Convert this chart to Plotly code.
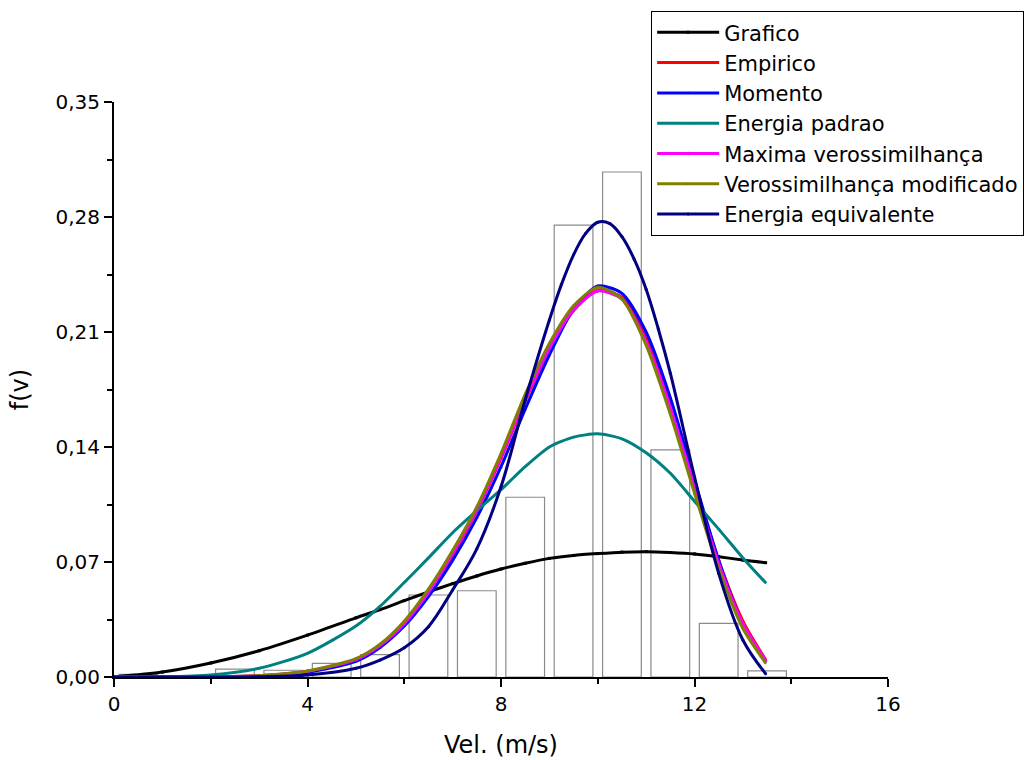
import plotly.graph_objects as go

# Histogram (bin centres, relative frequency)
bin_centers = [0.5, 1.5, 2.5, 3.5, 4.5, 5.5, 6.5, 7.5, 8.5, 9.5, 10.5, 11.5, 12.5, 13.5]
bin_freq = [0.0016, 0.0, 0.0048, 0.0041, 0.0083, 0.0136, 0.0499, 0.0525,
            0.1094, 0.2751, 0.3074, 0.1382, 0.0326, 0.0037]

# Curves
v = [0, 1, 2, 3, 4, 5, 5.5, 6, 6.5, 7, 7.5, 8, 8.5, 9, 9.5, 10, 10.5, 11, 11.5, 12, 12.5, 13, 13.47]

grafico = [0.0, 0.0030, 0.0085, 0.0160, 0.0255, 0.0360, 0.0410, 0.0465, 0.0518, 0.0568, 0.0615,
           0.0657, 0.0692, 0.0722, 0.0740, 0.0751, 0.0760, 0.0763, 0.0758, 0.0749, 0.0732, 0.0712, 0.0696]
empirico = [0.0, 0.0, 0.0001, 0.0008, 0.0034, 0.0105, 0.0190, 0.0320, 0.0510, 0.0740, 0.1010,
            0.1330, 0.1680, 0.1990, 0.2230, 0.2355, 0.2310, 0.2060, 0.1660, 0.1180, 0.0710, 0.0340, 0.0105]
momento = [0.0, 0.0, 0.0001, 0.0006, 0.0028, 0.0095, 0.0180, 0.0310, 0.0490, 0.0710, 0.0970,
           0.1280, 0.1630, 0.1960, 0.2240, 0.2380, 0.2335, 0.2100, 0.1700, 0.1200, 0.0710, 0.0320, 0.0095]
energia_padrao = [0.0, 0.0001, 0.0012, 0.0053, 0.0144, 0.0310, 0.0430, 0.0575, 0.0725, 0.0878, 0.1012,
                  0.1140, 0.1280, 0.1400, 0.1460, 0.1480, 0.1450, 0.1365, 0.1240, 0.1070, 0.0900, 0.0725, 0.0574]
maxima = [0.0, 0.0, 0.0001, 0.0008, 0.0035, 0.0106, 0.0192, 0.0325, 0.0515, 0.0750, 0.1020,
          0.1340, 0.1690, 0.2000, 0.2235, 0.2350, 0.2300, 0.2040, 0.1640, 0.1160, 0.0690, 0.0325, 0.0100]
veross_mod = [0.0, 0.0, 0.0001, 0.0008, 0.0036, 0.0112, 0.0200, 0.0340, 0.0535, 0.0770, 0.1035,
              0.1360, 0.1720, 0.2030, 0.2260, 0.2372, 0.2300, 0.2020, 0.1600, 0.1120, 0.0660, 0.0295, 0.0085]

# Energia equivalente is read on a finer grid around its sharper peak
v_eq = [0, 1, 2, 3, 4, 5, 5.5, 6, 6.5, 7, 7.5, 8, 8.5, 9, 9.25, 9.5, 9.75, 10, 10.25, 10.5, 10.75,
        11, 11.25, 11.5, 12, 12.5, 13, 13.47]
energia_equiv = [0.0, 0.0, 0.0, 0.0002, 0.0012, 0.0053, 0.0103, 0.0178, 0.0306, 0.0530, 0.0780,
                 0.1158, 0.1686, 0.2173, 0.2390, 0.2570, 0.2700, 0.2768, 0.2760, 0.2680, 0.2545,
                 0.2360, 0.2120, 0.1849, 0.1219, 0.0631, 0.0225, 0.0020]

series = [
    ("Grafico", v, grafico, "#000000", "square"),
    ("Empirico", v, empirico, "#FF0000", "circle"),
    ("Momento", v, momento, "#0000FF", "triangle-up"),
    ("Energia padrao", v, energia_padrao, "#008080", "triangle-down"),
    ("Maxima verossimilhança", v, maxima, "#FF00FF", "diamond"),
    ("Verossimilhança modificado", v, veross_mod, "#808000", "triangle-right"),
    ("Energia equivalente", v_eq, energia_equiv, "#000080", "circle"),
]

fig = go.Figure()
fig.add_trace(go.Bar(
    x=bin_centers, y=bin_freq, width=0.8,
    marker=dict(color="rgba(255,255,255,0)", line=dict(color="#8a8a8a", width=1.2)),
    showlegend=False, hoverinfo="skip"))

for name, xs, ys, color, sym in series:
    fig.add_trace(go.Scatter(
        x=xs, y=ys, name=name, mode="lines+markers",
        line=dict(color=color, width=3, shape="spline",
                  smoothing=1.0 if xs is v_eq else 0.7),
        marker=dict(color=color, size=3, symbol=sym)))

font_family = "DejaVu Sans, Arial, sans-serif"
fig.update_layout(
    width=1031, height=760,
    margin=dict(l=114, r=143, t=102, b=83, autoexpand=False),
    paper_bgcolor="white", plot_bgcolor="white",
    separators=",.",
    font=dict(family=font_family, color="black", size=18),
    barmode="overlay",
    legend=dict(
        x=0.694, y=1.158, xanchor="left", yanchor="top",
        bordercolor="black", borderwidth=1, bgcolor="white",
        font=dict(size=21, family=font_family), tracegroupgap=0, itemwidth=62),
    showlegend=True,
)
fig.update_xaxes(
    range=[0, 16], tickmode="array", tickvals=[0, 4, 8, 12, 16],
    ticktext=["0", "4", "8", "12", "16"],
    showline=True, linecolor="black", linewidth=2, mirror=False,
    ticks="outside", ticklen=8, tickwidth=2, tickcolor="black",
    minor=dict(ticks="outside", ticklen=5, tickwidth=2, tickcolor="black", dtick=2, tick0=0),
    showgrid=False, zeroline=False, automargin=False,
    tickfont=dict(size=20),
    title=dict(text="Vel. (m/s)", font=dict(size=24), standoff=21),
)
fig.update_yaxes(
    range=[0, 0.35], tick0=0, dtick=0.07, tickformat=".2f",
    showline=True, linecolor="black", linewidth=2, mirror=False,
    ticks="outside", ticklen=8, tickwidth=2, tickcolor="black",
    minor=dict(ticks="outside", ticklen=5, tickwidth=2, tickcolor="black", dtick=0.035, tick0=0),
    showgrid=False, zeroline=False, automargin=False,
    tickfont=dict(size=20),
    title=dict(text="f(v)", font=dict(size=24), standoff=20),
)

fig.write_html("out.html")
